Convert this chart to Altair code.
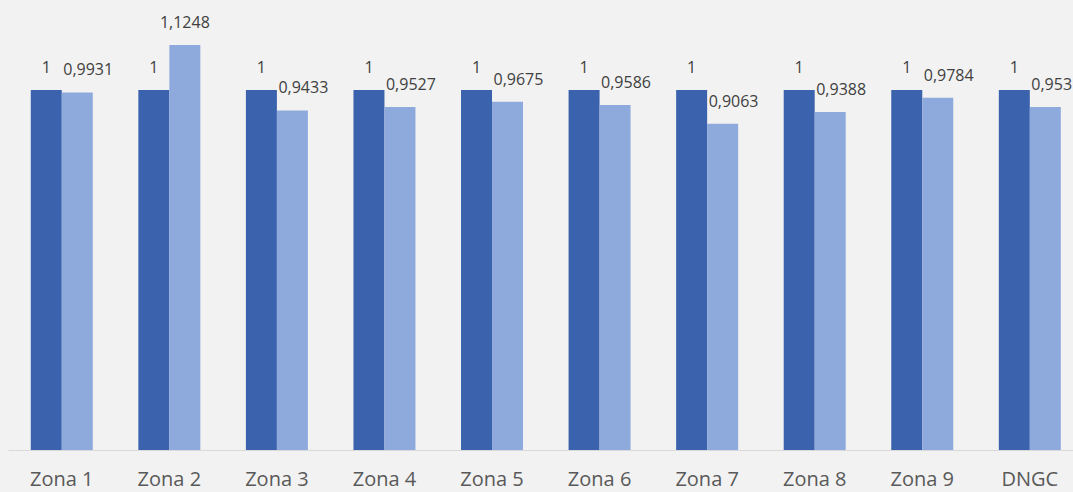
import altair as alt
import pandas as pd

zonas = ["Zona 1", "Zona 2", "Zona 3", "Zona 4", "Zona 5", "Zona 6",
         "Zona 7", "Zona 8", "Zona 9", "DNGC"]
serie_base = [1, 1, 1, 1, 1, 1, 1, 1, 1, 1]
serie_valor = [0.9931, 1.1248, 0.9433, 0.9527, 0.9675, 0.9586,
               0.9063, 0.9388, 0.9784, 0.9531]
series = ["Serie 1", "Serie 2"]
colors = ["#3b63ad", "#8eaadc"]

rows = []
for z, a, b in zip(zonas, serie_base, serie_valor):
    for s, v in zip(series, [a, b]):
        rows.append({"zona": z, "serie": s, "valor": v,
                     "label": ("%g" % v).replace(".", ",")})
df = pd.DataFrame(rows)

px_per_unit = 360
plot_h = 442
plot_w = 1065
xrange_end = 107.56 * len(zonas)

x_enc = alt.X("zona:N", sort=zonas, title=None,
              scale=alt.Scale(range=[0, xrange_end], paddingInner=0.4236,
                              paddingOuter=0.2118),
              axis=alt.Axis(labelFont="Open Sans", labelFontSize=20,
                            labelColor="#595959", labelAngle=0,
                            labelBaseline="alphabetic", labelPadding=35,
                            ticks=False, domainColor="#d9d9d9",
                            domainWidth=1, grid=False))
xo_enc = alt.XOffset("serie:N", sort=series,
                     scale=alt.Scale(paddingInner=0, paddingOuter=0))
y_enc = alt.Y("valor:Q", axis=None,
              scale=alt.Scale(domain=[0, plot_h / px_per_unit], nice=False,
                              zero=True))

base = alt.Chart(df).encode(x=x_enc, xOffset=xo_enc, y=y_enc)

bars = base.mark_bar(width={"band": 1}).encode(
    color=alt.Color("serie:N", sort=series,
                    scale=alt.Scale(domain=series, range=colors), legend=None)
)

txt_style = dict(font="Open Sans", fontSize=16, color="#404040",
                 baseline="alphabetic", dy=-17)

lab_dark = base.transform_filter(alt.datum.serie == "Serie 1").mark_text(
    align="center", **txt_style).encode(text="label:N")
lab_high = base.transform_filter(
    (alt.datum.serie == "Serie 2") & (alt.datum.valor > 1)
).mark_text(align="center", **txt_style).encode(text="label:N")
lab_low = base.transform_filter(
    (alt.datum.serie == "Serie 2") & (alt.datum.valor <= 1)
).mark_text(align="left", dx=-14, **txt_style).encode(text="label:N")

chart = alt.layer(bars, lab_dark, lab_high, lab_low).properties(
    width=plot_w, height=plot_h,
    autosize=alt.AutoSizeParams(type="none"),
    padding={"left": 8, "top": 8, "right": 0, "bottom": 41},
    background="#f2f2f2",
).configure_view(stroke=None)

page_css = ("html,body{margin:0;padding:0;background:#f2f2f2;overflow:hidden}"
            ".vega-embed{display:block;position:relative;line-height:0}"
            ".vega-embed svg{display:block;overflow:hidden}")

chart.save("out.html", embed_options={"renderer": "svg", "actions": False,
                                      "defaultStyle": page_css})
